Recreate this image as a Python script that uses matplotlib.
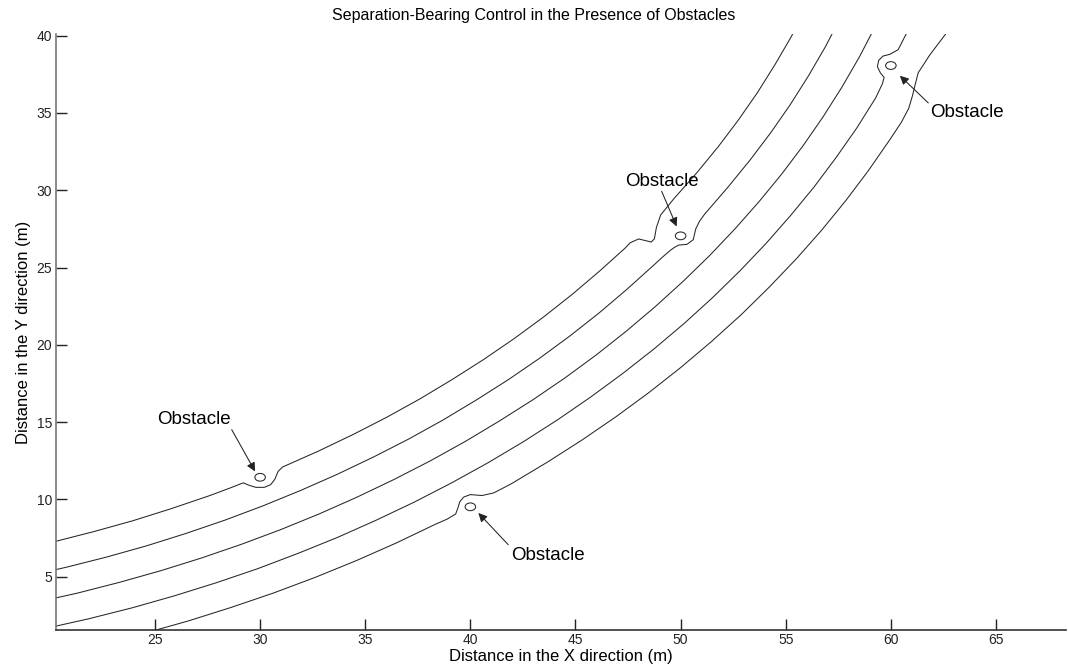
import matplotlib
matplotlib.use("Agg")
import matplotlib.pyplot as plt
from matplotlib.patches import Ellipse

plt.rcParams['font.family'] = ['Liberation Sans', 'DejaVu Sans']

# ---------------- data ----------------
curve1_x = [16.43, 18.34, 20.23, 22.10, 23.95, 25.77, 27.57, 28.5, 29.2, 29.5, 29.8, 30.2,
            30.5, 30.7, 30.85, 31.06, 32.75, 34.41, 36.03, 37.61, 39.14, 40.63, 42.08,
            43.48, 44.83, 46.12, 47.37, 47.6, 48.0, 48.4, 48.6, 48.75, 48.85, 49.05,
            49.69, 50.77, 51.79, 52.75, 53.65, 54.48, 55.26, 55.96]
curve1_y = [6.18, 6.69, 7.27, 7.92, 8.62, 9.40, 10.23, 10.70, 11.07, 10.9, 10.78, 10.78,
            10.95, 11.3, 11.8, 12.09, 13.11, 14.19, 15.32, 16.51, 17.76, 19.05, 20.40,
            21.80, 23.25, 24.74, 26.27, 26.6, 26.85, 26.72, 26.65, 26.85, 27.6, 28.4,
            29.47, 31.13, 32.82, 34.55, 36.31, 38.11, 39.93, 41.78]

curve2_x = [16.86, 18.83, 20.78, 22.70, 24.61, 26.48, 28.33, 30.15, 31.93, 33.68, 35.39,
            37.06, 38.69, 40.27, 41.81, 43.30, 44.74, 46.13, 47.46, 48.75, 49.2, 49.5,
            49.7, 49.9, 50.3, 50.6, 50.72, 50.9, 51.14, 52.25, 53.30, 54.29, 55.22,
            56.08, 56.88, 57.61]
curve2_y = [4.48, 5.01, 5.61, 6.27, 7.00, 7.80, 8.66, 9.59, 10.58, 11.63, 12.74,
            13.90, 15.13, 16.42, 17.75, 19.14, 20.58, 22.07, 23.61, 25.19, 25.75, 26.1,
            26.3, 26.45, 26.5, 26.8, 27.5, 28.0, 28.45, 30.20, 31.95, 33.73, 35.55,
            37.40, 39.27, 41.18]

curve3_x = [17.28, 19.31, 21.32, 23.30, 25.26, 27.19, 29.10, 30.97, 32.81, 34.60, 36.37,
            38.09, 39.76, 41.39, 42.98, 44.52, 46.00, 47.43, 48.81, 50.13, 51.39, 52.59,
            53.74, 54.82, 55.84, 56.79, 57.68, 58.50, 59.25, 59.94]
curve3_y = [2.79, 3.33, 3.94, 4.63, 5.38, 6.20, 7.09, 8.04, 9.06, 10.14, 11.29,
            12.49, 13.75, 15.08, 16.45, 17.88, 19.36, 20.90, 22.49, 24.12, 25.79, 27.51,
            29.28, 31.07, 32.91, 34.78, 36.69, 38.62, 40.58, 42.56]

curve4_x = [17.70, 19.79, 21.86, 23.90, 25.92, 27.90, 29.87, 31.79, 33.68, 35.53, 37.34,
            39.11, 40.84, 42.52, 44.15, 45.73, 47.25, 48.73, 50.15, 51.51, 52.81, 54.05,
            55.22, 56.34, 57.38, 58.37, 59.28, 59.6, 59.68, 59.5, 59.36, 59.42, 59.62,
            59.96, 60.35, 60.67, 61.0, 61.60]
curve4_y = [1.09, 1.65, 2.28, 2.98, 3.76, 4.60, 5.51, 6.50, 7.54, 8.66, 9.83,
            11.07, 12.37, 13.73, 15.15, 16.63, 18.15, 19.73, 21.36, 23.04, 24.77, 26.54,
            28.35, 30.20, 32.09, 34.01, 35.98, 36.9, 37.3, 37.6, 38.0, 38.4, 38.68,
            38.8, 39.1, 39.96, 40.8, 42.02]

curve5_x = [18.13, 20.27, 22.40, 24.50, 26.57, 28.62, 30.63, 32.61, 34.56, 36.46, 38.32,
            38.89, 39.3, 39.42, 39.5, 39.68, 40.0, 40.56, 41.11, 41.92, 43.64, 45.32,
            46.95, 48.51, 50.03, 51.49, 52.89, 54.22, 55.50, 56.71, 57.85, 58.93, 59.94,
            60.5, 60.85, 61.03, 61.15, 61.3, 61.86, 62.6, 63.3]
curve5_y = [-0.61, -0.04, 0.61, 1.34, 2.13, 3.01, 3.94, 4.95, 6.03, 7.17, 8.38,
            8.72, 9.05, 9.5, 9.85, 10.15, 10.31, 10.25, 10.42, 10.99, 12.39, 13.85,
            15.37, 16.93, 18.56, 20.24, 21.96, 23.74, 25.56, 27.42, 29.32, 31.27, 33.25,
            34.4, 35.3, 36.13, 36.8, 37.6, 38.77, 40.1, 41.8]

obstacle_x = [30.0, 50.0, 60.0, 40.0]
obstacle_y = [11.43, 27.05, 38.07, 9.52]
obstacle_size = 0.5

label_text = "Obstacle"
label_x = [26.85, 49.1, 63.64, 43.67]
label_y = [15.16, 30.57, 35.0, 6.36]
arrow_start_x = [28.65, 49.1, 61.78, 41.8]
arrow_start_y = [14.51, 29.93, 35.65, 7.07]
arrow_end_x = [29.76, 49.81, 60.43, 40.38]
arrow_end_y = [11.81, 27.66, 37.41, 9.12]

title = "Separation-Bearing Control in the Presence of Obstacles"
xlabel = "Distance in the X direction (m)"
ylabel = "Distance in the Y direction (m)"
xticks = [25, 30, 35, 40, 45, 50, 55, 60, 65]
yticks = [5, 10, 15, 20, 25, 30, 35, 40]

# ---------------- figure ----------------
fig = plt.figure(figsize=(10.68, 6.70), dpi=100)
ax = fig.add_axes([55.7 / 1068, 40 / 670, (1066 - 55.7) / 1068, (630 - 34) / 670])

line_color = '#262626'
for xs, ys in [(curve1_x, curve1_y), (curve2_x, curve2_y), (curve3_x, curve3_y),
               (curve4_x, curve4_y), (curve5_x, curve5_y)]:
    ax.plot(xs, ys, color=line_color, lw=0.75, solid_joinstyle='round')

for ox, oy in zip(obstacle_x, obstacle_y):
    ax.add_patch(Ellipse((ox, oy), obstacle_size, obstacle_size, fill=False,
                         edgecolor=line_color, lw=0.75))

for tx, ty, sx, sy, ex, ey in zip(label_x, label_y, arrow_start_x, arrow_start_y,
                                  arrow_end_x, arrow_end_y):
    ax.text(tx, ty, label_text, fontsize=13.5, ha='center', va='center', color='black')
    ax.annotate('', xy=(ex, ey), xytext=(sx, sy),
                arrowprops=dict(arrowstyle='-|>', lw=0.75, color='#222222',
                                mutation_scale=13, shrinkA=0, shrinkB=0))

ax.set_xlim(20.277, 68.33)
ax.set_ylim(1.55, 40.11)
ax.set_xticks(xticks)
ax.set_yticks(yticks)
ax.tick_params(direction='in', length=7.7, width=1.0, labelsize=10, pad=2.5,
               colors='#222222')
ax.spines['top'].set_visible(False)
ax.spines['right'].set_visible(False)
ax.spines['left'].set_color('#777777')
ax.spines['bottom'].set_color('#333333')
ax.spines['left'].set_linewidth(1.2)
ax.spines['bottom'].set_linewidth(1.2)

ax.set_title(title, fontsize=11.5, pad=10, x=(534 - 55.7) / (1066 - 55.7))
ax.set_xlabel(xlabel, fontsize=12, labelpad=1)
ax.set_ylabel(ylabel, fontsize=12, labelpad=4)

fig.savefig("out.png", dpi=100)
